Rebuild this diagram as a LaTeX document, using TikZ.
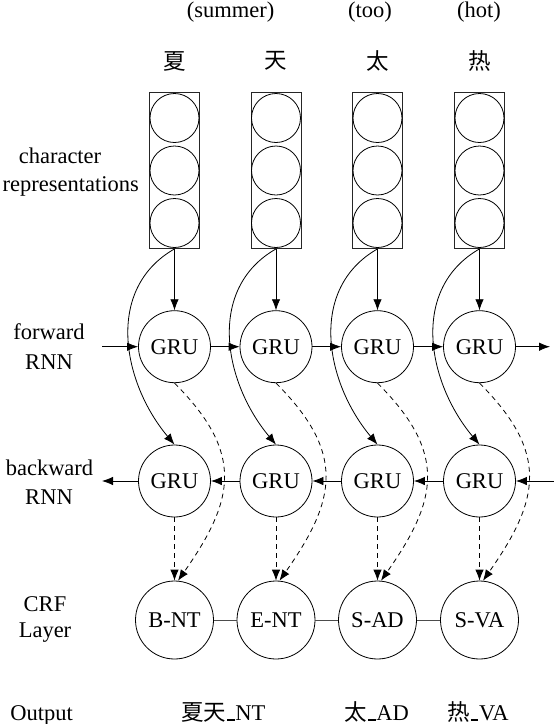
\documentclass[tikz,border=0pt]{standalone}
\usepackage{fontspec}
\setmainfont{Liberation Serif}
\newfontfamily\cjk{Noto Sans CJK SC}
\usetikzlibrary{arrows.meta}
\newcommand{\usc}{\kern.05em\rule[0pt]{0.33em}{0.07em}\kern.03em}
\begin{document}
\begin{tikzpicture}[x=1pt,y=-1pt,
  every node/.style={font=\fontsize{22.5}{27}\selectfont, inner sep=0pt},
  gru/.style={draw, circle, minimum size=72pt, line width=0.8pt},
  crf/.style={draw, circle, minimum size=78pt, line width=0.8pt},
  unit/.style={draw, circle, minimum size=49pt, line width=0.8pt},
  vecbox/.style={draw=black!85, rectangle, minimum width=50pt, minimum height=156pt, line width=0.8pt},
  arr/.style={-{Latex[length=11pt,width=8.5pt]}, line width=0.8pt},
  darr/.style={arr, dash pattern=on 5pt off 4pt},
  link/.style={line width=0.8pt, black!70}]
\useasboundingbox (0,0) rectangle (554,724);

% top labels
\node[anchor=base] (en1) at (230.5,17) {(summer)};
\node[anchor=base] (en3) at (370,17) {(too)};
\node[anchor=base] (en4) at (479,17) {(hot)};
\node (ch1) at (174.5,61) {\cjk 夏};
\node (ch2) at (276,61) {\cjk 天};
\node (ch3) at (377.5,61) {\cjk 太};
\node (ch4) at (479.5,61) {\cjk 热};

% left labels
\node[anchor=base] (l1a) at (60,163) {character};
\node[anchor=base] (l1b) at (70.8,191) {representations};
\node[anchor=base] (l2a) at (49,339.5) {forward};
\node[anchor=base] (l2b) at (49,369) {RNN};
\node[anchor=base] (l3a) at (49.5,475) {backward};
\node[anchor=base] (l3b) at (49,504.5) {RNN};
\node[anchor=base] (l4a) at (45,611) {CRF};
\node[anchor=base] (l4b) at (45,637.5) {Layer};
\node[anchor=base] (l5) at (41.7,720) {Output};

% columns
\foreach \i/\x/\t in {1/174.5/B-NT, 2/276/E-NT, 3/377.5/S-AD, 4/479.5/S-VA} {
  \node[vecbox] (box\i) at (\x,170.5) {};
  \node[unit] (u\i a) at (\x,118) {};
  \node[unit] (u\i b) at (\x,170.5) {};
  \node[unit] (u\i c) at (\x,223) {};
  \node[gru] (fgru\i) at (\x,346.7) {GRU};
  \node[gru] (bgru\i) at (\x,481) {GRU};
  \node[crf] (crf\i) at (\x,620) {\t};
}

% outputs
\node[anchor=base] (o1) at (223.3,720.5) {\cjk 夏天\normalfont\usc NT};
\node[anchor=base] (o3) at (376.7,720.5) {\cjk 太\normalfont\usc AD};
\node[anchor=base] (o4) at (478,720.5) {\cjk 热\normalfont\usc VA};

% vertical and curved connectors
\foreach \i in {1,...,4} {
  \draw[arr] (box\i.south) -- (fgru\i.north);
  \draw[arr] (box\i.south) .. controls +(-70,40) and +(-52,-62) .. (bgru\i.north);
  \draw[darr] (fgru\i.south) .. controls +(70,70) and +(57,-81) .. (crf\i.85);
  \draw[darr] (bgru\i.south) -- (crf\i.north);
}

% forward chain
\coordinate (fin) at (102,346.7);
\coordinate (fout) at (550,346.7);
\draw[arr] (fin) -- (fgru1.west);
\draw[arr] (fgru1.east) -- (fgru2.west);
\draw[arr] (fgru2.east) -- (fgru3.west);
\draw[arr] (fgru3.east) -- (fgru4.west);
\draw[arr] (fgru4.east) -- (fout);

% backward chain
\coordinate (bin) at (554,481);
\coordinate (bout) at (102,481);
\draw[arr] (bin) -- (bgru4.east);
\draw[arr] (bgru4.west) -- (bgru3.east);
\draw[arr] (bgru3.west) -- (bgru2.east);
\draw[arr] (bgru2.west) -- (bgru1.east);
\draw[arr] (bgru1.west) -- (bout);

% CRF links
\draw[link] (crf1) -- (crf2);
\draw[link] (crf2) -- (crf3);
\draw[link] (crf3) -- (crf4);
\end{tikzpicture}
\end{document}
